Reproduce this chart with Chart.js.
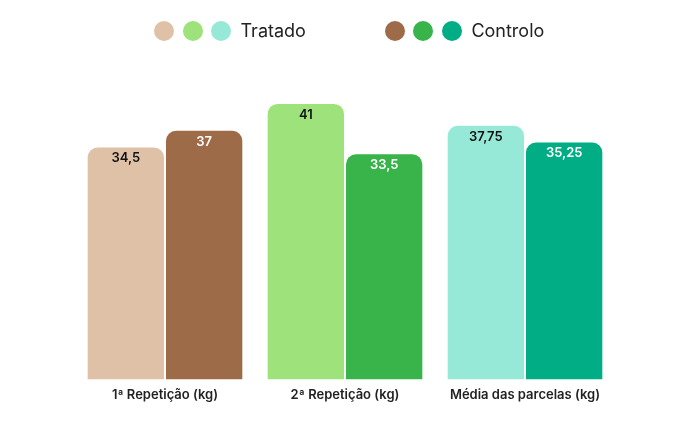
<!DOCTYPE html>
<html lang="pt">
<head>
  <meta charset="UTF-8">
  <title>Tratado vs Controlo</title>
  <script src="https://cdn.jsdelivr.net/npm/chart.js"></script>
  <style>
    html, body {
      margin: 0;
      padding: 0;
      background: #fff;
      font-family: 'Inter', 'Roboto', Arial, sans-serif;
    }
    .wrap {
      position: relative;
      width: 690px;
      height: 431px;
    }
    .legend {
      position: absolute;
      top: 20px;
      left: 154px;
      display: flex;
      font-size: 18px;
      color: #222;
    }
    .legend-item {
      display: flex;
      align-items: center;
      gap: 8.5px;
    }
    .legend-item + .legend-item { margin-left: 79px; }
    .dot {
      width: 20px;
      height: 20px;
      border-radius: 50%;
      display: inline-block;
    }
    .legend-item span.txt { margin-left: 1px; }
  </style>
</head>
<body>
  <div class="wrap">
    <div class="legend" id="legend"></div>
    <canvas id="chart" width="690" height="431"></canvas>
  </div>
  <script>
    // dados
    const categories = ['1ª Repetição (kg)', '2ª Repetição (kg)', 'Média das parcelas (kg)'];
    const tratado = [34.5, 41, 37.75];
    const controlo = [37, 33.5, 35.25];
    const tratadoColors = ['#dfc1a8', '#9de27a', '#97e9d7'];
    const controloColors = ['#9e6b48', '#38b44a', '#00ad84'];

    // legenda com três bolinhas por série
    function buildLegend() {
      const legend = document.getElementById('legend');
      [['Tratado', tratadoColors], ['Controlo', controloColors]].forEach(([name, cols]) => {
        const item = document.createElement('div');
        item.className = 'legend-item';
        cols.forEach(c => {
          const d = document.createElement('span');
          d.className = 'dot';
          d.style.background = c;
          item.appendChild(d);
        });
        const t = document.createElement('span');
        t.className = 'txt';
        t.textContent = name;
        item.appendChild(t);
        legend.appendChild(item);
      });
    }
    buildLegend();

    // rótulos dentro do topo das barras
    const valueLabels = {
      id: 'valueLabels',
      afterDatasetsDraw(chart) {
        const ctx = chart.ctx;
        ctx.save();
        ctx.font = '600 13px Inter, Arial, sans-serif';
        ctx.textAlign = 'center';
        ctx.textBaseline = 'middle';
        chart.data.datasets.forEach((ds, i) => {
          const meta = chart.getDatasetMeta(i);
          meta.data.forEach((bar, j) => {
            ctx.fillStyle = i === 0 ? '#111' : '#fff';
            const txt = String(ds.data[j]).replace('.', ',');
            ctx.fillText(txt, bar.x, bar.y + 11);
          });
        });
        ctx.restore();
      }
    };

    const ctx = document.getElementById('chart').getContext('2d');
    new Chart(ctx, {
      type: 'bar',
      data: {
        labels: categories,
        datasets: [
          {
            label: 'Tratado',
            data: tratado,
            backgroundColor: tratadoColors,
            borderRadius: 10,
            borderSkipped: 'start'
          },
          {
            label: 'Controlo',
            data: controlo,
            backgroundColor: controloColors,
            borderRadius: 10,
            borderSkipped: 'start'
          }
        ]
      },
      options: {
        responsive: false,
        animation: false,
        layout: {
          padding: { left: 75, right: 75, top: 77, bottom: 28 }
        },
        datasets: {
          bar: { categoryPercentage: 0.87, barPercentage: 0.975 }
        },
        plugins: {
          legend: { display: false },
          tooltip: { enabled: false }
        },
        scales: {
          x: {
            grid: { display: false },
            border: { display: false },
            ticks: {
              color: '#222',
              padding: 0,
              font: { family: 'Inter', size: 13, weight: '600' }
            }
          },
          y: {
            display: false,
            min: 0,
            max: 45
          }
        }
      },
      plugins: [valueLabels]
    });
  </script>
</body>
</html>
